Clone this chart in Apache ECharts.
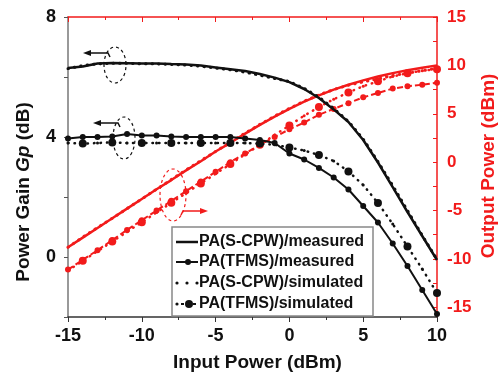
<!DOCTYPE html>
<html>
<head>
<meta charset="utf-8">
<script src="https://cdn.jsdelivr.net/npm/echarts/dist/echarts.min.js"></script>
<style>
  html, body { margin: 0; padding: 0; background: #fff; }
  #main { width: 502px; height: 378px; }
</style>
</head>
<body>
<div id="main"></div>
<script>
// input power sweep (dBm)
var inputPower = [-15, -14, -13, -12, -11, -10, -9, -8, -7, -6, -5, -4, -3, -2, -1, 0, 1, 2, 3, 4, 5, 6, 7, 8, 9, 10];

// power gain Gp (dB), left axis
var gainScpwMeas = [6.30, 6.35, 6.45, 6.47, 6.46, 6.45, 6.45, 6.43, 6.42, 6.38, 6.32, 6.26, 6.20, 6.10, 5.98, 5.83, 5.60, 5.30, 4.92, 4.50, 3.90, 3.15, 2.33, 1.50, 0.70, -0.10];
var gainTfmsMeas = [3.95, 4.00, 4.00, 4.02, 4.10, 4.05, 4.05, 4.02, 4.00, 4.00, 4.00, 4.00, 3.95, 3.90, 3.80, 3.45, 3.25, 2.97, 2.65, 2.25, 1.70, 1.15, 0.45, -0.30, -1.10, -1.90];
var gainScpwSim = [6.28, 6.38, 6.44, 6.46, 6.46, 6.44, 6.44, 6.42, 6.40, 6.36, 6.30, 6.24, 6.16, 6.06, 5.95, 5.85, 5.62, 5.33, 4.95, 4.52, 3.93, 3.18, 2.38, 1.55, 0.72, -0.08];
var gainTfmsSim = [3.80, 3.78, 3.80, 3.82, 3.80, 3.80, 3.80, 3.80, 3.80, 3.80, 3.80, 3.80, 3.80, 3.78, 3.74, 3.65, 3.55, 3.40, 3.20, 2.85, 2.40, 1.80, 1.10, 0.35, -0.40, -1.20];

// output power (dBm), right axis
var poutScpwMeas = [-8.8, -7.8, -6.8, -5.8, -4.8, -3.8, -2.8, -1.85, -0.85, 0.1, 1.1, 2.0, 2.95, 3.85, 4.7, 5.5, 6.25, 6.9, 7.5, 8.0, 8.45, 8.85, 9.2, 9.5, 9.75, 10.0];
var poutTfmsMeas = [-11.1, -10.1, -9.1, -8.05, -7.0, -6.0, -5.0, -4.0, -3.0, -2.0, -1.0, 0.0, 0.9, 1.8, 2.6, 3.4, 4.1, 4.9, 5.5, 6.1, 6.7, 7.15, 7.6, 7.85, 8.0, 8.2];
var poutScpwSim = [-8.8, -7.75, -6.75, -5.8, -4.8, -3.8, -2.8, -1.8, -0.8, 0.15, 1.1, 2.05, 3.0, 3.9, 4.75, 5.55, 6.3, 6.95, 7.5, 7.95, 8.3, 8.6, 8.95, 9.2, 9.45, 9.7];
var poutTfmsSim = [-11.2, -10.2, -9.2, -8.2, -7.2, -6.2, -5.2, -4.2, -3.2, -2.2, -1.2, -0.2, 0.8, 1.8, 2.8, 3.8, 4.8, 5.7, 6.5, 7.2, 7.85, 8.35, 8.85, 9.2, 9.45, 9.6];

var names = ['PA(S-CPW)/measured', 'PA(TFMS)/measured', 'PA(S-CPW)/simulated', 'PA(TFMS)/simulated'];
var rightTicks = [-15, -10, -5, 0, 5, 10, 15];
var rightMinor = [-15, -12.5, -10, -7.5, -5, -2.5, 0, 2.5, 5, 7.5, 10, 12.5, 15];

var BLACK = '#111';
var RED = '#f21b1b';
var FONT = 'Arial, "Liberation Sans", sans-serif';
var DOTS = [0.5, 6];

function pairs(ys) {
  return inputPower.map(function (x, i) { return [x, ys[i]]; });
}
// bigger dot on every other point for the TFMS simulation
function altDot(v, p) { return p.dataIndex % 2 === 1 ? 8 : 3; }

// legend drawn by hand (box, samples, texts)
function legendGraphics() {
  var x0 = 172, y0 = 227, rowY = [242, 262, 283, 304];
  var g = [{ type: 'rect', shape: { x: x0, y: y0, width: 201, height: 89 }, style: { fill: '#fff', stroke: '#888', lineWidth: 1.5 }, z: 50 }];
  var lx1 = 176, lx2 = 198;
  // solid
  g.push({ type: 'line', shape: { x1: lx1, y1: rowY[0], x2: lx2, y2: rowY[0] }, style: { stroke: BLACK, lineWidth: 2.5 }, z: 51 });
  // solid with dot
  g.push({ type: 'line', shape: { x1: lx1, y1: rowY[1], x2: lx2, y2: rowY[1] }, style: { stroke: BLACK, lineWidth: 2 }, z: 51 });
  g.push({ type: 'circle', shape: { cx: 188, cy: rowY[1], r: 3 }, style: { fill: BLACK }, z: 52 });
  // dotted
  [177, 187, 197].forEach(function (cx) {
    g.push({ type: 'circle', shape: { cx: cx, cy: rowY[2], r: 1.6 }, style: { fill: BLACK }, z: 51 });
  });
  // dotted with big dot
  g.push({ type: 'circle', shape: { cx: 177, cy: rowY[3], r: 1.6 }, style: { fill: BLACK }, z: 51 });
  g.push({ type: 'line', shape: { x1: 181, y1: rowY[3], x2: 197, y2: rowY[3] }, style: { stroke: BLACK, lineWidth: 2, lineDash: [3, 3] }, z: 51 });
  g.push({ type: 'circle', shape: { cx: 189, cy: rowY[3], r: 4 }, style: { fill: BLACK }, z: 52 });
  names.forEach(function (n, i) {
    g.push({
      type: 'text', x: 199, y: rowY[i], z: 52,
      style: { text: n, font: 'bold 16px ' + FONT, fill: BLACK, verticalAlign: 'middle' }
    });
  });
  return g;
}

var myChart = echarts.init(document.getElementById('main'));

var option = {
  animation: false,
  grid: { left: 68, right: 65, top: 17, bottom: 61 },
  xAxis: [
    {
      type: 'value', position: 'bottom', min: -15, max: 10, interval: 5,
      name: 'Input Power (dBm)', nameLocation: 'middle', nameGap: 36,
      nameTextStyle: { fontFamily: FONT, fontWeight: 'bold', fontSize: 19, color: BLACK, padding: [0, 0, 0, 10] },
      axisLine: { onZero: false, lineStyle: { color: '#333', width: 1.5 } },
      axisTick: { length: 5, lineStyle: { color: '#333' } },
      minorTick: { show: true, splitNumber: 2, length: 3, lineStyle: { color: '#333' } },
      axisLabel: { margin: 10, fontFamily: FONT, fontWeight: 'bold', fontSize: 18, color: BLACK },
      splitLine: { show: false }
    },
    {
      type: 'value', position: 'top', min: -15, max: 10, interval: 5,
      axisLine: { onZero: false, lineStyle: { color: RED, width: 1.5 } },
      axisTick: { inside: true, length: 5, lineStyle: { color: RED } },
      minorTick: { show: true, splitNumber: 2, length: 3, lineStyle: { color: RED } },
      axisLabel: { show: false },
      splitLine: { show: false }
    }
  ],
  yAxis: [
    {
      type: 'value', position: 'left', min: -2, max: 8, interval: 2,
      axisLine: { show: true, onZero: false, lineStyle: { color: '#777', width: 1.5 } },
      axisTick: { length: 4, lineStyle: { color: '#555' } },
      axisLabel: {
        margin: 12, fontFamily: FONT, fontWeight: 'bold', fontSize: 18, color: BLACK,
        formatter: function (v) { return v % 4 === 0 ? v : ''; }
      },
      splitLine: { show: false }
    },
    {
      type: 'value', position: 'right', min: -16, max: 15,
      axisLine: { show: true, onZero: false, lineStyle: { color: RED, width: 1.5 } },
      axisTick: { customValues: rightMinor, inside: true, length: 4, lineStyle: { color: RED } },
      axisLabel: { customValues: rightTicks, margin: 10, fontFamily: FONT, fontWeight: 'bold', fontSize: 17, color: RED },
      splitLine: { show: false }
    }
  ],
  series: [
    // gain, black
    {
      name: names[0], type: 'line', yAxisIndex: 0, data: pairs(gainScpwMeas), symbol: 'none',
      lineStyle: { color: BLACK, width: 2.5 }, itemStyle: { color: BLACK }, z: 3
    },
    {
      name: names[1], type: 'line', yAxisIndex: 0, data: pairs(gainTfmsMeas), symbol: 'circle', symbolSize: 6,
      lineStyle: { color: BLACK, width: 2 }, itemStyle: { color: BLACK }, z: 3
    },
    {
      name: names[2], type: 'line', yAxisIndex: 0, data: pairs(gainScpwSim), symbol: 'none',
      lineStyle: { color: BLACK, width: 3, type: DOTS, cap: 'round' }, itemStyle: { color: BLACK }, z: 3
    },
    {
      name: names[3], type: 'line', yAxisIndex: 0, data: pairs(gainTfmsSim), symbol: 'circle', symbolSize: altDot,
      lineStyle: { color: BLACK, width: 2.5, type: DOTS, cap: 'round' }, itemStyle: { color: BLACK }, z: 3
    },
    // output power, red
    {
      name: names[0], type: 'line', yAxisIndex: 1, data: pairs(poutScpwMeas), symbol: 'none',
      lineStyle: { color: RED, width: 2.5 }, itemStyle: { color: RED }, z: 2
    },
    {
      name: names[1], type: 'line', yAxisIndex: 1, data: pairs(poutTfmsMeas), symbol: 'circle', symbolSize: 6,
      lineStyle: { color: RED, width: 2, type: [6, 3] }, itemStyle: { color: RED }, z: 2
    },
    {
      name: names[2], type: 'line', yAxisIndex: 1, data: pairs(poutScpwSim), symbol: 'none',
      lineStyle: { color: RED, width: 3, type: DOTS, cap: 'round' }, itemStyle: { color: RED }, z: 2
    },
    {
      name: names[3], type: 'line', yAxisIndex: 1, data: pairs(poutTfmsSim), symbol: 'circle', symbolSize: altDot,
      lineStyle: { color: RED, width: 2.5, type: DOTS, cap: 'round' }, itemStyle: { color: RED }, z: 2
    }
  ],
  graphic: [
    // axis titles
    {
      type: 'text', x: 24, y: 192, rotation: Math.PI / 2,
      style: {
        text: '{a|Power Gain }{b|Gp}{a| (dB)}',
        align: 'center', verticalAlign: 'middle',
        rich: {
          a: { fontFamily: FONT, fontWeight: 'bold', fontSize: 19, fill: BLACK },
          b: { fontFamily: FONT, fontWeight: 'bold', fontStyle: 'italic', fontSize: 19, fill: BLACK }
        }
      }
    },
    {
      type: 'text', x: 489, y: 166, rotation: Math.PI / 2,
      style: {
        text: 'Output Power (dBm)', align: 'center', verticalAlign: 'middle',
        font: 'bold 19px ' + FONT, fill: RED
      }
    },
    // dashed ellipses with arrows
    { type: 'ellipse', shape: { cx: 115, cy: 65, rx: 11, ry: 18 }, style: { fill: 'none', stroke: BLACK, lineWidth: 1.2, lineDash: [3, 3] } },
    { type: 'polyline', shape: { points: [[88, 53], [108, 53], [110, 57]] }, style: { stroke: BLACK, lineWidth: 1.5, fill: 'none' } },
    { type: 'polygon', shape: { points: [[83, 53], [91, 50], [91, 56]] }, style: { fill: BLACK } },

    { type: 'ellipse', shape: { cx: 124, cy: 138, rx: 11, ry: 21 }, style: { fill: 'none', stroke: BLACK, lineWidth: 1.2, lineDash: [3, 3] } },
    { type: 'polyline', shape: { points: [[98, 123], [118, 123], [120, 127]] }, style: { stroke: BLACK, lineWidth: 1.5, fill: 'none' } },
    { type: 'polygon', shape: { points: [[93, 123], [101, 120], [101, 126]] }, style: { fill: BLACK } },

    { type: 'ellipse', shape: { cx: 173, cy: 195, rx: 13, ry: 26 }, style: { fill: 'none', stroke: RED, lineWidth: 1.2, lineDash: [3, 3] } },
    { type: 'polyline', shape: { points: [[181, 215], [183, 211], [202, 211]] }, style: { stroke: RED, lineWidth: 1.5, fill: 'none' } },
    { type: 'polygon', shape: { points: [[208, 211], [200, 208], [200, 214]] }, style: { fill: RED } }
  ].concat(legendGraphics())
};

myChart.setOption(option);
</script>
</body>
</html>
